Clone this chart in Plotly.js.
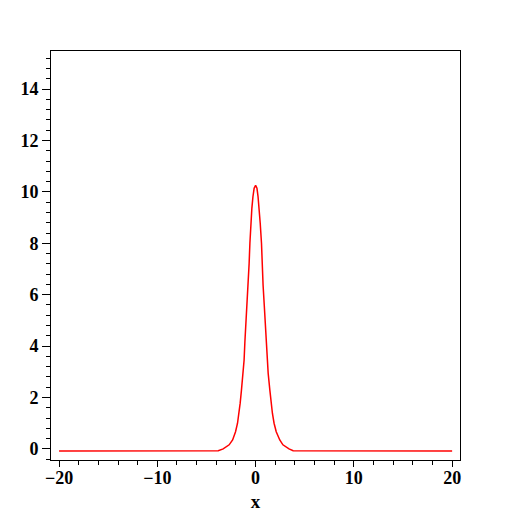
<!DOCTYPE html>
<html>
<head>
<meta charset="utf-8">
<script src="https://cdn.plot.ly/plotly-3.0.1.min.js"></script>
<style>html,body{margin:0;padding:0;background:#fff;}#chart{width:512px;height:512px;}</style>
</head>
<body>
<div id="chart"></div>
<script>
// Curve values
const xVals = [-20, -3.8, -3.3, -2.69, -2.34, -2.04, -1.84, -1.67, -1.57, -1.44, -1.29, -1.17, -1.09, -0.99, -0.89, -0.75, -0.66, -0.58, -0.5, -0.38, -0.27, -0.15, 0,
               0.14, 0.25, 0.36, 0.47, 0.6, 0.66, 0.76, 0.88, 1.0, 1.1, 1.18, 1.28, 1.45, 1.57, 1.71, 1.88, 2.1, 2.46, 2.78, 3.4, 3.82, 20];
const yVals = [-0.08, -0.07, 0.0, 0.16, 0.35, 0.67, 1.0, 1.39, 1.78, 2.29, 2.94, 3.46, 4.17, 4.82, 5.6, 6.38, 7.2, 8.0, 8.78, 9.36, 9.81, 10.14, 10.25,
               10.14, 9.81, 9.36, 8.78, 8.0, 7.2, 6.38, 5.6, 4.82, 4.17, 3.46, 2.94, 2.29, 1.78, 1.39, 1.0, 0.67, 0.35, 0.16, 0.0, -0.07, -0.08];
const xTickVals = [-20, -10, 0, 10, 20];
const yTickVals = [0, 2, 4, 6, 8, 10, 12, 14];
const xTitle = "x";

const tickFont = {family: "Liberation Serif, serif", size: 18, color: "#000", weight: "bold"};

const trace = {
  x: xVals, y: yVals, type: "scatter", mode: "lines",
  line: {color: "#ff0000", width: 1.5, shape: "linear"},
  hoverinfo: "none"
};

const layout = {
  width: 512, height: 512,
  margin: {l: 51, r: 52, t: 51, b: 52},
  paper_bgcolor: "#fff", plot_bgcolor: "#fff",
  showlegend: false,
  xaxis: {
    range: [-20.82, 20.8],
    tickvals: xTickVals,
    ticks: "outside", ticklen: 6, tickwidth: 1, tickcolor: "#000",
    ticklabelstandoff: -5,
    minor: {dtick: 2, tick0: 0, ticks: "outside", ticklen: 4, tickwidth: 1, tickcolor: "#000", showgrid: false},
    showline: true, linecolor: "#000", linewidth: 1, mirror: true,
    showgrid: false, zeroline: false,
    tickfont: tickFont,
    title: {text: xTitle, font: {family: "Liberation Serif, serif", size: 19, color: "#000", weight: "bold"}, standoff: 12}
  },
  yaxis: {
    range: [-0.43, 15.48],
    tickvals: yTickVals,
    ticks: "outside", ticklen: 8, tickwidth: 1, tickcolor: "#000",
    minor: {dtick: 0.4, tick0: 0, ticks: "outside", ticklen: 4, tickwidth: 1, tickcolor: "#000", showgrid: false},
    showline: true, linecolor: "#000", linewidth: 1, mirror: true,
    showgrid: false, zeroline: false,
    tickfont: tickFont
  }
};

Plotly.newPlot("chart", [trace], layout, {staticPlot: true, displayModeBar: false});
</script>
</body>
</html>
